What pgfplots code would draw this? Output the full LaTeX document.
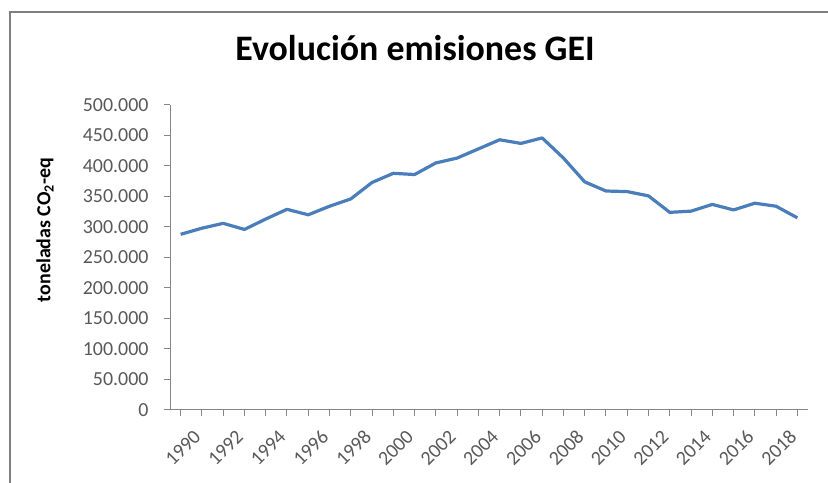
\documentclass[border=0pt]{standalone}
\usepackage{fontspec}
\setmainfont{Carlito}
\usepackage{pgfplots}
\pgfplotsset{compat=1.18}
\definecolor{exblue}{HTML}{4A7EBB}
\definecolor{axgray}{HTML}{868686}
\definecolor{txtgray}{HTML}{595959}
\definecolor{framegray}{HTML}{7F7F7F}
\begin{document}
\begin{tikzpicture}[x=1bp,y=1bp]
\useasboundingbox (0,0) rectangle (828,483);
\draw[framegray, line width=1.5bp] (10,0) -- (10,471) -- (828,471);
\node[font=\bfseries\fontsize{36}{42}\selectfont] at (415,435) {Evolución emisiones GEI};
\node[rotate=90, font=\bfseries\fontsize{20}{24}\selectfont] at (45,253) {toneladas CO\textsubscript{2}-eq};
\begin{axis}[
  at={(170bp,73bp)}, anchor=south west,
  scale only axis, width=638bp, height=305bp,
  xmin=-0.5, xmax=29.5, ymin=0, ymax=500000,
  axis x line*=bottom, axis y line*=left,
  axis line style={axgray, line width=1bp},
  xtick={0,2,...,28},
  xticklabels={1990,1992,1994,1996,1998,2000,2002,2004,2006,2008,2010,2012,2014,2016,2018},
  minor xtick={1,3,...,29},
  minor tick length=6bp,
  xticklabel style={rotate=45, anchor=north east, xshift=3bp, yshift=-14bp},
  ytick={0,50000,...,500000},
  scaled y ticks=false,
  yticklabel style={xshift=-12bp, /pgf/number format/.cd, fixed, precision=0, 1000 sep={.}},
  /pgf/number format/assume math mode=true,
  tick label style={font=\fontsize{20}{24}\selectfont, text=txtgray},
  tick align=outside, major tick length=6bp,
  tick style={axgray, line width=1bp},
  minor tick style={axgray, line width=1bp},
  clip=false,
]
\addplot[exblue, line width=3.2bp, line join=round] coordinates {
(0,288000) (1,298000) (2,306000) (3,296000) (4,313000) (5,329000) (6,320000) (7,334000) (8,346000) (9,373000)
(10,388000) (11,386000) (12,405000) (13,413000) (14,428000) (15,443000) (16,437000) (17,446000) (18,413000) (19,374000)
(20,359000) (21,358000) (22,351000) (23,324000) (24,326000) (25,337000) (26,328000) (27,339000) (28,334000) (29,315000)
};
\end{axis}
\end{tikzpicture}
\end{document}
